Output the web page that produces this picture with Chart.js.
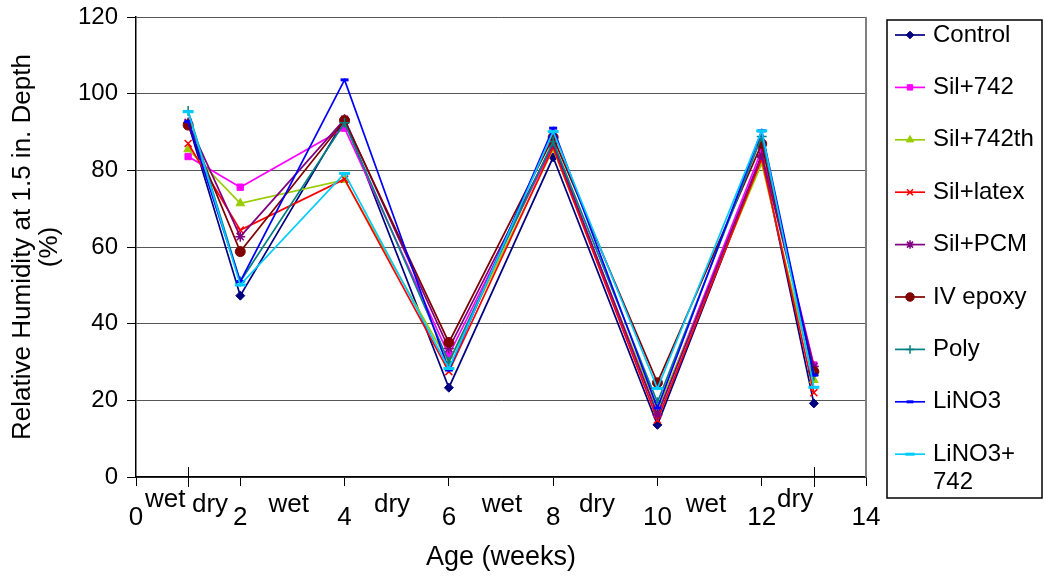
<!DOCTYPE html>
<html>
<head>
<meta charset="utf-8">
<script src="https://cdn.jsdelivr.net/npm/chart.js@4.4.1/dist/chart.umd.min.js"></script>
<style>
  html, body { margin: 0; padding: 0; background: #fff; }
  #wrap { width: 1045px; height: 579px; }
</style>
</head>
<body>
<div id="wrap"><canvas id="c" width="1045" height="579"></canvas></div>
<script>
// ages (weeks) where RH was read
const weeks = [1, 2, 4, 6, 8, 10, 12, 13];

// RH at 1.5 in. depth (%), one array per mix
const control   = [92.3, 47.3, 93.3, 23.3, 83.4, 13.6, 83.5, 19.2];
const sil742    = [83.6, 75.6, 91.0, 31.8, 86.5, 16.5, 85.3, 29.2];
const sil742th  = [85.5, 71.4, 77.5, 29.8, 85.5, 17.5, 81.8, 25.3];
const silLatex  = [87.0, 64.4, 77.7, 27.5, 86.0, 14.9, 83.0, 22.0];
const silPCM    = [92.5, 62.7, 93.3, 33.5, 87.0, 16.2, 84.0, 28.8];
const ivEpoxy   = [91.8, 58.8, 93.0, 35.1, 88.6, 24.6, 86.9, 27.5];
const poly      = [95.5, 51.0, 92.4, 30.0, 87.5, 19.5, 88.8, 26.5];
const lino3     = [92.7, 51.0, 103.6, 27.9, 91.0, 18.0, 90.3, 26.6];
const lino3_742 = [95.3, 50.1, 79.2, 28.3, 90.1, 23.1, 90.3, 23.4];

const seriesNames = ['Control', 'Sil+742', 'Sil+742th', 'Sil+latex', 'Sil+PCM',
                     'IV epoxy', 'Poly', 'LiNO3', 'LiNO3+742'];
const seriesValues = [control, sil742, sil742th, silLatex, silPCM,
                      ivEpoxy, poly, lino3, lino3_742];

// x axis texts
const xTickLabels = ['0', '2', '4', '6', '8', '10', '12', '14'];
const phaseLabels = ['wet', 'dry', 'wet', 'dry', 'wet', 'dry', 'wet', 'dry'];
const phaseAt     = [0.56, 1.42, 2.93, 4.91, 7.02, 8.84, 10.93, 12.64];
const phaseRaised = [true, false, false, false, false, false, false, true];

// excel-ish marker look
const styles = [
  { color: '#000080', pointStyle: 'rectRot',  radius: 4.5, bw: 1 },
  { color: '#FF00FF', pointStyle: 'rect',     radius: 4.5, bw: 1 },
  { color: '#99CC00', pointStyle: 'triangle', radius: 5,   bw: 1 },
  { color: '#FF0000', pointStyle: 'crossRot', radius: 5,   bw: 1.5 },
  { color: '#800080', pointStyle: 'star',     radius: 5,   bw: 1.5 },
  { color: '#800000', pointStyle: 'circle',   radius: 5,   bw: 1 },
  { color: '#008080', pointStyle: 'cross',    radius: 5,   bw: 1.5 },
  { color: '#0000FF', pointStyle: 'line',     radius: 4,   bw: 3 },
  { color: '#00CCFF', pointStyle: 'line',     radius: 5.5, bw: 3 }
];

const FONT = "'Liberation Sans', Arial, sans-serif";

const datasets = seriesNames.map((name, i) => ({
  label: name,
  data: weeks.map((w, j) => ({ x: w, y: seriesValues[i][j] })),
  borderColor: styles[i].color,
  backgroundColor: styles[i].color,
  borderWidth: 1.7,
  pointStyle: styles[i].pointStyle,
  pointRadius: styles[i].radius,
  pointBorderWidth: styles[i].bw,
  pointBackgroundColor: styles[i].color,
  pointBorderColor: styles[i].color,
  showLine: true,
  tension: 0,
  order: seriesNames.length - i   // later series on top, like excel
}));

const decor = {
  id: 'decor',
  beforeDatasetsDraw(chart) {
    const { ctx, chartArea: a } = chart;
    ctx.save();
    ctx.strokeStyle = '#808080';
    ctx.lineWidth = 2;
    ctx.beginPath();
    ctx.moveTo(a.right, a.top);
    ctx.lineTo(a.right, a.bottom);
    ctx.stroke();
    ctx.restore();
  },
  afterDraw(chart) {
    const { ctx, chartArea: a, scales: { x } } = chart;
    ctx.save();

    // odd crossing ticks at first / last reading
    ctx.strokeStyle = '#000';
    ctx.lineWidth = 1;
    [weeks[0], weeks[weeks.length - 1]].forEach(w => {
      const px = Math.round(x.getPixelForValue(w)) + 0.5;
      ctx.beginPath();
      ctx.moveTo(px, a.bottom - 10);
      ctx.lineTo(px, a.bottom + 10);
      ctx.stroke();
    });

    // x tick numbers + wet/dry phases
    ctx.fillStyle = '#000';
    ctx.textAlign = 'center';
    ctx.textBaseline = 'alphabetic';
    ctx.font = '26px ' + FONT;
    xTickLabels.forEach((t, i) => {
      ctx.fillText(t, x.getPixelForValue(i * 2), a.bottom + 48);
    });
    phaseLabels.forEach((t, i) => {
      ctx.fillText(t, x.getPixelForValue(phaseAt[i]), a.bottom + (phaseRaised[i] ? 30 : 35));
    });

    // legend box
    const bx = a.right + 21, by = 20, bw = 155, bh = 478;
    ctx.strokeStyle = '#000';
    ctx.lineWidth = 1.5;
    ctx.strokeRect(bx, by, bw, bh);

    ctx.font = '24px ' + FONT;
    ctx.textAlign = 'left';
    ctx.textBaseline = 'middle';
    seriesNames.forEach((name, i) => {
      const st = styles[i];
      const cy = by + 15 + i * 52.4;
      ctx.strokeStyle = st.color;
      ctx.fillStyle = st.color;
      ctx.lineWidth = 1.7;
      ctx.beginPath();
      ctx.moveTo(bx + 8, cy);
      ctx.lineTo(bx + 38, cy);
      ctx.stroke();
      ctx.lineWidth = st.bw;
      Chart.helpers.drawPoint(ctx, {
        pointStyle: st.pointStyle, radius: st.radius * 0.85, rotation: 0, borderWidth: st.bw
      }, bx + 23, cy);

      ctx.fillStyle = '#000';
      const maxW = bw - 52;
      if (ctx.measureText(name).width > maxW && name.indexOf('+') >= 0) {
        const k = name.lastIndexOf('+') + 1;
        ctx.fillText(name.slice(0, k), bx + 46, cy);
        ctx.fillText(name.slice(k), bx + 46, cy + 28);
      } else {
        ctx.fillText(name, bx + 46, cy);
      }
    });
    ctx.restore();
  }
};

new Chart(document.getElementById('c').getContext('2d'), {
  type: 'scatter',
  data: { datasets },
  options: {
    responsive: false,
    animation: false,
    devicePixelRatio: 1,
    layout: { padding: { top: 17, right: 179, bottom: 0, left: 0 } },
    plugins: {
      legend: { display: false },
      tooltip: { enabled: false }
    },
    scales: {
      x: {
        type: 'linear',
        min: 0,
        max: 14,
        ticks: { stepSize: 2, display: false },
        grid: { drawOnChartArea: false, drawTicks: true, tickLength: 9, color: '#000' },
        border: { color: '#000', width: 1.5 },
        title: {
          display: true,
          text: 'Age (weeks)',
          color: '#000',
          font: { family: FONT, size: 27 },
          padding: { top: 0, bottom: 5 }
        },
        afterFit(s) { s.height = 102; s.paddingLeft = 0; s.paddingRight = 0; }
      },
      y: {
        min: 0,
        max: 120,
        ticks: {
          stepSize: 20,
          color: '#000',
          padding: 9,
          font: { family: FONT, size: 24 }
        },
        grid: { color: '#555', lineWidth: 1, tickLength: 9, tickColor: '#000' },
        border: { color: '#000', width: 1.5 },
        title: {
          display: true,
          text: ['Relative Humidity at 1.5 in. Depth', '(%)'],
          color: '#000',
          font: { family: FONT, size: 26, lineHeight: 1.05 },
          padding: { top: 9, bottom: 0 }
        },
        afterFit(s) { s.width = 136; s.paddingTop = 0; s.paddingBottom = 0; }
      }
    }
  },
  plugins: [decor]
});
</script>
</body>
</html>
